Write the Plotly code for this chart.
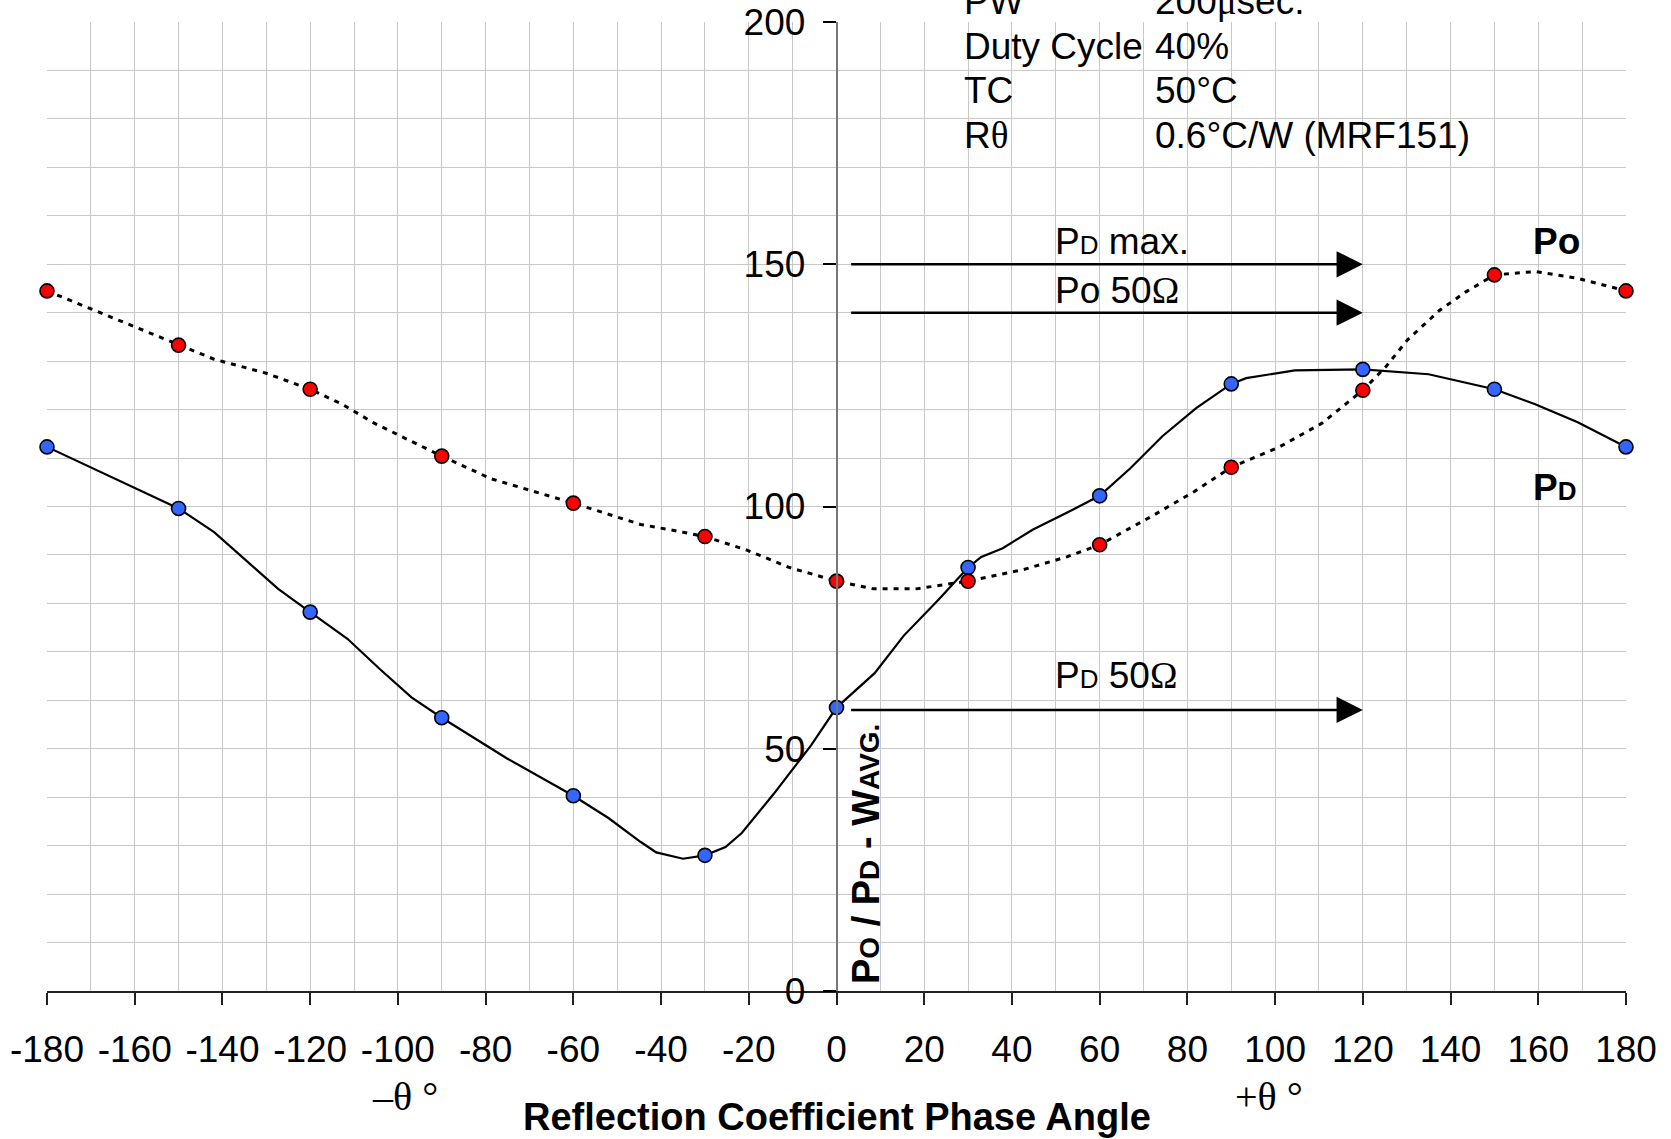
import plotly.graph_objects as go

# Phase angle at which the measured points were taken
angles = [-180, -150, -120, -90, -60, -30, 0, 30, 60, 90, 120, 150, 180]
pd_points = [112.3, 99.6, 78.2, 56.4, 40.3, 28.0, 58.5, 87.4, 102.2, 125.3, 128.3, 124.2, 112.3]
po_points = [144.5, 133.3, 124.2, 110.4, 100.7, 93.8, 84.6, 84.6, 92.1, 108.1, 124.0, 147.8, 144.5]

# Hand-faired curves drawn through the measurements
pd_curve_x = [-180, -150, -141.9, -127.3, -120, -111.5, -104.2, -96.9, -90, -75.1, -60, -52, -44.7,
              -41.1, -35, -30, -25.3, -21.6, -14.3, -5.8, 0, 8.7, 15.3, 23.3, 30, 33.0, 37.9, 44.7,
              52.5, 60, 67.0, 74.3, 82, 90, 93.4, 104.5, 120, 135.0, 150, 159.3, 169.0, 180]
pd_curve_y = [112.3, 99.6, 94.7, 83.0, 78.2, 72.7, 66.5, 60.6, 56.4, 48.0, 40.3, 35.7, 30.8,
              28.6, 27.3, 28.0, 29.7, 32.6, 40.7, 50.7, 58.5, 65.6, 73.3, 80.8, 87.4, 89.6, 91.4, 95.2,
              98.7, 102.2, 107.9, 114.5, 120.3, 125.3, 126.5, 128.1, 128.3, 127.3, 124.2, 121.1, 117.4, 112.3]
po_curve_x = [-180, -150, -141.9, -130, -120, -112.7, -105.4, -90, -78.7, -60, -44.7, -35, -30,
              -20.4, -10.7, 0, 8.5, 18.2, 30, 42.7, 52.5, 60, 71.9, 81.6, 90, 101, 110.7, 120,
              125.3, 130.2, 137.5, 143.5, 150, 159.3, 169.0, 180]
po_curve_y = [144.5, 133.3, 130.4, 127.5, 124.2, 121.1, 117.2, 110.4, 105.7, 100.7, 96.3, 94.7, 93.8,
              91.0, 87.4, 84.6, 83.0, 83.0, 84.6, 87.0, 89.6, 92.1, 98.0, 103.1, 108.1, 112.3, 117.2, 124.0,
              128.9, 134.4, 140.5, 144.3, 147.8, 148.5, 147.1, 144.5]

# Reference levels shown as arrows
arrow_levels = [150, 140, 58]
arrow_start = 3
arrow_end = 120

x_ticks = list(range(-180, 181, 20))
y_ticks = [0, 50, 100, 150, 200]

conditions = [("PW", "200<span style=\"font-family:'Liberation Serif'\">μ</span>sec."),
              ("Duty Cycle", "40%"),
              ("TC", "50°C"),
              ("R<span style=\"font-family:'Liberation Serif'\">θ</span>", "0.6°C/W (MRF151)")]
# row centres in paper units (top of plot = 1)
condition_rows = [1.021, 0.975, 0.929, 0.883]

SANS = "Liberation Sans, Arial, sans-serif"
SERIF = "Liberation Serif, Times New Roman, serif"
GRID = "#c8c8c8"

fig = go.Figure()

fig.add_trace(go.Scatter(x=pd_curve_x, y=pd_curve_y, mode="lines",
                         line=dict(color="black", width=2.2), cliponaxis=False,
                         hoverinfo="skip", showlegend=False))
fig.add_trace(go.Scatter(x=po_curve_x, y=po_curve_y, mode="lines",
                         line=dict(color="black", width=3, dash="5px,6px"), cliponaxis=False,
                         hoverinfo="skip", showlegend=False))
fig.add_trace(go.Scatter(x=angles, y=pd_points, mode="markers", name="PD",
                         marker=dict(size=14, color="#3366ff", line=dict(color="black", width=1.6)),
                         cliponaxis=False, showlegend=False))
fig.add_trace(go.Scatter(x=angles, y=po_points, mode="markers", name="Po",
                         marker=dict(size=14, color="#ff0000", line=dict(color="black", width=1.6)),
                         cliponaxis=False, showlegend=False))

annotations = []

# Arrows
for lvl in arrow_levels:
    annotations.append(dict(x=arrow_end, y=lvl, ax=arrow_start, ay=lvl, xref="x", yref="y",
                            axref="x", ayref="y", text="", showarrow=True, arrowhead=2,
                            arrowwidth=2.5, arrowsize=2.1, arrowcolor="black"))

small = "<span style=\"font-size:26px\">{}</span>"
omega = "<span style=\"font-family:'Liberation Serif'\">Ω</span>"
labels = [
    ("P" + small.format("D") + " max.", 49.4, 154.6),
    ("Po 50" + omega, 49.4, 144.5),
    ("P" + small.format("D") + " 50" + omega, 49.4, 65.2),
    ("<b>Po</b>", 158.3, 154.6),
    ("<b>P" + small.format("D") + "</b>", 158.3, 104.0),
]
for txt, x, y in labels:
    annotations.append(dict(x=x, y=y, xref="x", yref="y", text=txt, showarrow=False,
                            xanchor="left", yanchor="middle",
                            font=dict(family=SANS, size=37, color="black")))

# Test-condition table
for (name, val), y in zip(conditions, condition_rows):
    annotations.append(dict(x=28.6, y=y, xref="x", yref="paper", text=name, showarrow=False,
                            xanchor="left", yanchor="middle",
                            font=dict(family=SANS, size=37, color="black")))
    annotations.append(dict(x=72.2, y=y, xref="x", yref="paper", text=val, showarrow=False,
                            xanchor="left", yanchor="middle",
                            font=dict(family=SANS, size=37, color="black")))

# Axis titles
annotations.append(dict(x=0, y=-0.130, xref="x", yref="paper",
                        text="<b>Reflection Coefficient Phase Angle</b>", showarrow=False,
                        xanchor="center", yanchor="middle",
                        font=dict(family=SANS, size=38, color="black")))
annotations.append(dict(x=-98.4, y=-0.109, xref="x", yref="paper", text="–θ °", showarrow=False,
                        xanchor="center", yanchor="middle",
                        font=dict(family=SERIF, size=40, color="black")))
annotations.append(dict(x=98.6, y=-0.109, xref="x", yref="paper", text="+θ °", showarrow=False,
                        xanchor="center", yanchor="middle",
                        font=dict(family=SERIF, size=40, color="black")))
ys = "<span style=\"font-size:28px\">{}</span>"
annotations.append(dict(x=6.7, y=1.0, xref="x", yref="y", textangle=-90,
                        text="<b>P" + ys.format("O") + " / P" + ys.format("D") + " - W" + ys.format("AVG.") + "</b>",
                        showarrow=False, xanchor="center", yanchor="bottom",
                        font=dict(family=SANS, size=38, color="black")))

fig.update_layout(
    width=1671, height=1139, autosize=False,
    margin=dict(l=47, r=45, t=22, b=148),
    paper_bgcolor="white", plot_bgcolor="white",
    showlegend=False,
    annotations=annotations,
    shapes=[dict(type="rect", xref="x", yref="paper", x0=23.8, x1=165, y0=0.8566, y1=1.03,
                 fillcolor="white", line=dict(width=0), layer="between")],
    xaxis=dict(range=[-180, 180], tickmode="array", tickvals=x_ticks,
               ticktext=[str(v) for v in x_ticks], automargin=False,
               showgrid=True, gridcolor=GRID, gridwidth=1,
               minor=dict(dtick=10, tick0=0, showgrid=True, gridcolor=GRID, gridwidth=1),
               zeroline=False, showline=True, linecolor="#222", linewidth=2,
               ticks="outside", ticklen=12, tickwidth=1.5, tickcolor="#222",
               ticklabelstandoff=13,
               tickfont=dict(family=SANS, size=37, color="black")),
    yaxis=dict(range=[0, 200], tickmode="array", tickvals=y_ticks, automargin=False,
               showgrid=True, gridcolor=GRID, gridwidth=1,
               minor=dict(dtick=10, tick0=0, showgrid=True, gridcolor=GRID, gridwidth=1),
               zeroline=False, showline=True, linecolor="#777", linewidth=1.5,
               anchor="free", position=0.5, side="left",
               ticks="outside", ticklen=13, tickwidth=1.5, tickcolor="black",
               ticklabelstandoff=10,
               tickfont=dict(family=SANS, size=37, color="black")),
)

fig.write_html("out.html")
